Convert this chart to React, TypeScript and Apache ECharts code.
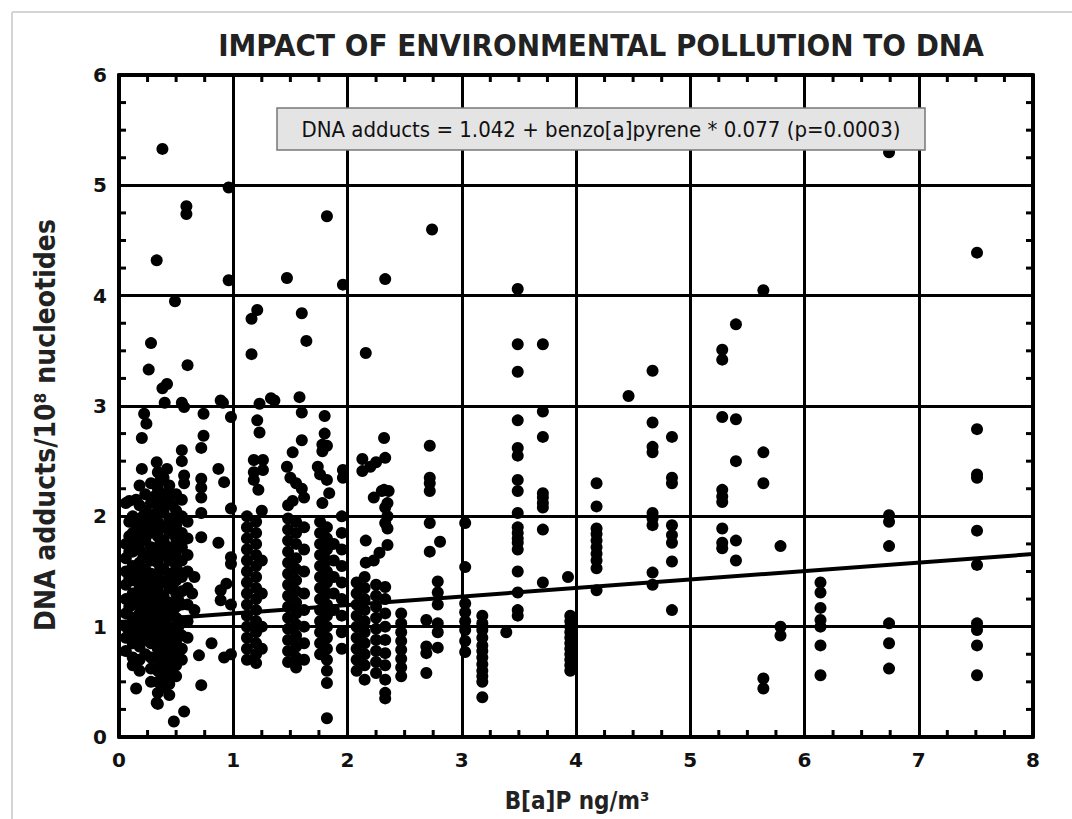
import React, { useEffect, useRef } from "react";
import * as echarts from "echarts";

const TITLE = "IMPACT OF ENVIRONMENTAL POLLUTION TO DNA";
const X_NAME = "B[a]P ng/m³";
const Y_NAME = "DNA adducts/10⁸ nucleotides";
const EQUATION = "DNA adducts = 1.042 + benzo[a]pyrene * 0.077 (p=0.0003)";
const INTERCEPT = 1.042;
const SLOPE = 0.077;
const X_TICKS = [0, 1, 2, 3, 4, 5, 6, 7, 8];
const Y_TICKS = [0, 1, 2, 3, 4, 5, 6];
const MINOR_FRACTIONS = [0.25, 0.5, 0.75];

type P = [number, number];

const pointsHigh: P[] = [
  [0.38, 5.33], [0.96, 4.98], [0.59, 4.81], [0.59, 4.74], [0.33, 4.32], [0.96, 4.14],
  [0.49, 3.95], [0.28, 3.57], [0.26, 3.33], [0.6, 3.37], [0.38, 3.16], [0.42, 3.2],
  [1.82, 4.72], [1.47, 4.16], [1.96, 4.1], [1.21, 3.87], [1.16, 3.79], [1.6, 3.84],
  [1.16, 3.47], [1.64, 3.59], [2.33, 4.15], [2.74, 4.6], [2.16, 3.48], [3.49, 4.06],
  [3.49, 3.56], [3.71, 3.56], [3.49, 3.31], [4.46, 3.09], [4.67, 3.32], [5.28, 3.51],
  [5.28, 3.42], [5.4, 3.74], [5.64, 4.05], [6.74, 5.3], [7.51, 4.39],
];

const band0Sparse: P[] = [
  [0.4, 3.03], [0.55, 3.03], [0.91, 3.03], [0.57, 2.99], [0.89, 3.05], [0.98, 2.9],
  [0.74, 2.93], [0.22, 2.93], [0.24, 2.84], [0.2, 2.71], [0.74, 2.73], [0.72, 2.62],
  [0.55, 2.6], [0.55, 2.5], [0.33, 2.49], [0.42, 2.43], [0.2, 2.43], [0.87, 2.43],
  [0.92, 2.31], [0.72, 2.34], [0.72, 2.26], [0.72, 2.17], [0.09, 2.14], [0.57, 2.37],
  [0.57, 2.3], [0.98, 2.07], [0.72, 2.03], [0.72, 1.81], [0.87, 1.76], [0.98, 1.63],
  [0.98, 1.57], [0.89, 1.33], [0.94, 1.39], [0.89, 1.24], [0.81, 0.85], [0.7, 0.74],
  [0.92, 0.72], [0.15, 0.44], [0.72, 0.47], [0.57, 0.23], [0.48, 0.14], [0.33, 0.31],
  [0.98, 1.2], [0.98, 0.75], [0.66, 1.45], [0.64, 1.3], [0.66, 1.15],
];

const band0Dense: P[] = [
  [0.06, 2.12], [0.06, 1.75], [0.06, 1.62], [0.06, 1.5], [0.06, 1.38], [0.06, 1.25], [0.06, 1.12], [0.06, 1.0], [0.06, 0.9], [0.06, 0.78],
  [0.12, 2.0], [0.12, 1.85], [0.12, 1.68], [0.12, 1.55], [0.12, 1.42], [0.12, 1.3], [0.12, 1.2], [0.12, 1.08], [0.12, 0.95], [0.12, 0.85], [0.12, 0.72], [0.12, 0.65],
  [0.18, 2.28], [0.18, 2.1], [0.18, 1.95], [0.18, 1.8], [0.18, 1.7], [0.18, 1.58], [0.18, 1.45], [0.18, 1.35], [0.18, 1.22], [0.18, 1.12], [0.18, 1.02], [0.18, 0.92], [0.18, 0.82], [0.18, 0.7], [0.18, 0.6],
  [0.23, 2.2], [0.23, 2.05], [0.23, 1.9], [0.23, 1.78], [0.23, 1.65], [0.23, 1.52], [0.23, 1.4], [0.23, 1.3], [0.23, 1.18], [0.23, 1.05], [0.23, 0.98], [0.23, 0.88], [0.23, 0.75],
  [0.28, 2.3], [0.28, 2.12], [0.28, 1.98], [0.28, 1.85], [0.28, 1.72], [0.28, 1.6], [0.28, 1.48], [0.28, 1.35], [0.28, 1.25], [0.28, 1.15], [0.28, 1.05], [0.28, 0.95], [0.28, 0.85], [0.28, 0.72], [0.28, 0.62], [0.28, 0.5],
  [0.34, 2.4], [0.34, 2.25], [0.34, 2.1], [0.34, 1.95], [0.34, 1.82], [0.34, 1.7], [0.34, 1.58], [0.34, 1.45], [0.34, 1.32], [0.34, 1.2], [0.34, 1.1], [0.34, 1.0], [0.34, 0.9], [0.34, 0.8], [0.34, 0.7], [0.34, 0.6], [0.34, 0.5], [0.34, 0.4], [0.34, 0.3],
  [0.39, 2.35], [0.39, 2.2], [0.39, 2.05], [0.39, 1.9], [0.39, 1.78], [0.39, 1.65], [0.39, 1.52], [0.39, 1.4], [0.39, 1.28], [0.39, 1.15], [0.39, 1.05], [0.39, 0.95], [0.39, 0.85], [0.39, 0.75], [0.39, 0.65], [0.39, 0.55], [0.39, 0.45],
  [0.44, 2.28], [0.44, 2.12], [0.44, 1.98], [0.44, 1.85], [0.44, 1.72], [0.44, 1.6], [0.44, 1.48], [0.44, 1.35], [0.44, 1.22], [0.44, 1.1], [0.44, 1.0], [0.44, 0.9], [0.44, 0.8], [0.44, 0.68], [0.44, 0.58], [0.44, 0.48], [0.44, 0.38],
  [0.5, 2.2], [0.5, 2.05], [0.5, 1.92], [0.5, 1.8], [0.5, 1.68], [0.5, 1.55], [0.5, 1.42], [0.5, 1.3], [0.5, 1.18], [0.5, 1.08], [0.5, 0.95], [0.5, 0.85], [0.5, 0.75], [0.5, 0.65], [0.5, 0.55],
  [0.55, 2.15], [0.55, 2.0], [0.55, 1.85], [0.55, 1.72], [0.55, 1.6], [0.55, 1.45], [0.55, 1.32], [0.55, 1.2], [0.55, 1.05], [0.55, 0.92], [0.55, 0.8], [0.55, 0.7],
  [0.6, 1.95], [0.6, 1.8], [0.6, 1.65], [0.6, 1.5], [0.6, 1.35], [0.6, 1.2], [0.6, 1.05], [0.6, 0.9],
];

const band0Overlap: P[] = [
  [0.09, 1.95], [0.09, 1.82], [0.09, 1.68], [0.09, 1.44], [0.09, 1.18], [0.09, 0.95],
  [0.15, 2.15], [0.15, 1.92], [0.15, 1.76], [0.15, 1.5], [0.15, 1.26], [0.15, 1.02],
  [0.21, 2.0], [0.21, 1.85], [0.21, 1.62], [0.21, 1.46], [0.21, 1.25], [0.21, 1.1],
  [0.31, 2.18], [0.31, 2.02], [0.31, 1.9], [0.31, 1.66], [0.31, 1.4], [0.31, 1.1], [0.31, 0.9],
  [0.36, 2.32], [0.36, 2.15], [0.36, 1.75], [0.36, 1.52], [0.36, 1.26], [0.36, 1.05], [0.36, 0.82],
  [0.42, 2.2], [0.42, 1.92], [0.42, 1.65], [0.42, 1.42], [0.42, 1.18], [0.42, 0.95], [0.42, 0.72],
  [0.47, 2.1], [0.47, 1.88], [0.47, 1.62], [0.47, 1.38], [0.47, 1.14], [0.47, 0.9],
  [0.52, 1.98], [0.52, 1.74], [0.52, 1.5], [0.52, 1.24], [0.52, 1.0],
];

const band1: P[] = [
  [1.21, 2.87], [1.23, 2.76], [1.18, 2.51], [1.26, 2.51], [1.18, 2.4], [1.26, 2.42], [1.18, 2.33], [1.22, 2.24], [1.23, 3.02], [1.33, 3.07],
  [1.12, 2.0], [1.12, 1.9], [1.12, 1.8], [1.12, 1.7], [1.12, 1.6], [1.12, 1.5], [1.12, 1.4], [1.12, 1.3], [1.12, 1.2], [1.12, 1.1], [1.12, 1.0], [1.12, 0.9], [1.12, 0.8], [1.12, 0.7],
  [1.2, 1.95], [1.2, 1.85], [1.2, 1.75], [1.2, 1.65], [1.2, 1.55], [1.2, 1.45], [1.2, 1.35], [1.2, 1.25], [1.2, 1.15], [1.2, 1.05], [1.2, 0.95], [1.2, 0.85], [1.2, 0.75], [1.2, 0.67],
  [1.25, 2.05], [1.25, 1.6], [1.25, 1.3], [1.25, 1.0], [1.25, 0.8],
  [1.58, 3.08], [1.6, 2.94], [1.6, 2.69], [1.52, 2.58], [1.47, 2.45], [1.5, 2.35], [1.55, 2.3], [1.6, 2.25], [1.62, 2.17], [1.52, 2.14], [1.36, 3.05],
  [1.48, 2.1], [1.48, 1.98], [1.48, 1.88], [1.48, 1.78], [1.48, 1.68], [1.48, 1.58], [1.48, 1.48], [1.48, 1.38], [1.48, 1.28], [1.48, 1.18], [1.48, 1.08], [1.48, 0.98], [1.48, 0.88], [1.48, 0.78], [1.48, 0.68],
  [1.55, 1.95], [1.55, 1.85], [1.55, 1.75], [1.55, 1.62], [1.55, 1.52], [1.55, 1.42], [1.55, 1.32], [1.55, 1.22], [1.55, 1.12], [1.55, 1.02], [1.55, 0.92], [1.55, 0.82], [1.55, 0.72], [1.55, 0.63],
  [1.62, 1.9], [1.62, 1.7], [1.62, 1.5], [1.62, 1.3], [1.62, 1.15], [1.62, 1.0], [1.62, 0.85], [1.62, 0.7],
  [1.8, 2.91], [1.8, 2.75], [1.82, 2.64], [1.74, 2.45], [1.76, 2.38], [1.82, 2.33], [1.84, 2.21], [1.78, 2.12], [1.96, 2.42], [1.96, 2.35], [1.78, 2.65], [1.78, 2.59], [1.82, 0.17],
  [1.76, 1.95], [1.76, 1.85], [1.76, 1.75], [1.76, 1.65], [1.76, 1.55], [1.76, 1.45], [1.76, 1.35], [1.76, 1.25], [1.76, 1.15], [1.76, 1.05], [1.76, 0.95], [1.76, 0.85], [1.76, 0.75],
  [1.82, 1.9], [1.82, 1.8], [1.82, 1.7], [1.82, 1.6], [1.82, 1.5], [1.82, 1.4], [1.82, 1.3], [1.82, 1.2], [1.82, 1.1], [1.82, 1.0], [1.82, 0.9], [1.82, 0.8], [1.82, 0.7], [1.82, 0.6], [1.82, 0.49],
  [1.88, 1.75], [1.88, 1.6], [1.88, 1.45], [1.88, 1.3], [1.88, 1.15],
  [1.95, 2.0], [1.95, 1.85], [1.95, 1.7], [1.95, 1.55], [1.95, 1.4], [1.95, 1.25], [1.95, 1.1], [1.95, 0.95], [1.95, 0.8],
];

const band2: P[] = [
  [2.32, 2.71], [2.33, 2.53], [2.25, 2.49], [2.13, 2.52], [2.13, 2.41], [2.2, 2.45], [2.32, 2.24], [2.23, 2.17], [2.33, 2.08], [2.33, 1.94],
  [2.35, 2.12], [2.35, 2.0], [2.35, 1.89], [2.16, 1.78], [2.16, 1.58], [2.23, 1.6], [2.28, 1.67], [2.35, 1.74], [2.3, 2.23], [2.36, 2.23],
  [2.08, 1.4], [2.08, 1.3], [2.08, 1.2], [2.08, 1.1], [2.08, 1.0], [2.08, 0.9], [2.08, 0.8], [2.08, 0.7], [2.08, 0.6],
  [2.15, 1.45], [2.15, 1.35], [2.15, 1.25], [2.15, 1.15], [2.15, 1.05], [2.15, 0.95], [2.15, 0.85], [2.15, 0.75], [2.15, 0.65], [2.15, 0.52],
  [2.25, 1.38], [2.25, 1.28], [2.25, 1.18], [2.25, 1.08], [2.25, 0.98], [2.25, 0.88], [2.25, 0.78], [2.25, 0.68], [2.25, 0.58],
  [2.33, 1.36], [2.33, 1.25], [2.33, 1.12], [2.33, 1.0], [2.33, 0.88], [2.33, 0.76], [2.33, 0.65], [2.33, 0.52], [2.33, 0.4], [2.33, 0.35],
  [2.47, 1.12], [2.47, 1.03], [2.47, 0.95], [2.47, 0.87], [2.47, 0.79], [2.47, 0.71], [2.47, 0.63], [2.47, 0.55],
  [2.72, 2.64], [2.72, 2.35], [2.72, 2.3], [2.72, 2.23], [2.72, 1.94], [2.81, 1.77], [2.72, 1.68], [2.79, 1.41], [2.79, 1.31],
  [2.79, 1.2], [2.69, 1.06], [2.79, 1.03], [2.79, 0.95], [2.69, 0.82], [2.69, 0.76], [2.79, 0.81], [2.69, 0.58],
];

const band3: P[] = [
  [3.03, 1.94], [3.03, 1.54], [3.03, 1.21], [3.03, 1.13], [3.03, 1.05], [3.03, 0.97], [3.03, 0.87], [3.03, 0.77],
  [3.18, 1.1], [3.18, 1.03], [3.18, 0.97], [3.18, 0.9], [3.18, 0.83], [3.18, 0.78], [3.18, 0.72], [3.18, 0.66], [3.18, 0.6], [3.18, 0.55], [3.18, 0.5], [3.18, 0.36],
  [3.39, 0.95],
  [3.49, 2.87], [3.49, 2.62], [3.49, 2.55], [3.49, 2.33], [3.49, 2.23], [3.49, 2.03], [3.49, 1.9], [3.49, 1.85], [3.49, 1.8], [3.49, 1.76], [3.49, 1.7], [3.49, 1.5], [3.49, 1.31], [3.49, 1.15], [3.49, 1.1],
  [3.71, 2.95], [3.71, 2.72], [3.71, 2.21], [3.71, 2.17], [3.71, 2.12], [3.71, 2.08], [3.71, 1.88], [3.71, 1.4],
  [3.93, 1.45],
  [3.95, 1.1], [3.95, 1.05], [3.95, 1.0], [3.95, 0.95], [3.95, 0.9], [3.95, 0.85], [3.95, 0.8], [3.95, 0.75], [3.95, 0.7], [3.95, 0.65], [3.95, 0.6],
];

const band4to8: P[] = [
  [4.18, 2.3], [4.18, 2.09], [4.18, 1.89], [4.18, 1.84], [4.18, 1.78], [4.18, 1.72], [4.18, 1.66], [4.18, 1.6], [4.18, 1.53], [4.18, 1.33],
  [4.67, 2.85], [4.67, 2.63], [4.67, 2.58], [4.67, 2.03], [4.67, 1.98], [4.67, 1.92], [4.67, 1.49], [4.67, 1.38],
  [4.84, 2.72], [4.84, 2.35], [4.84, 2.3], [4.84, 1.92], [4.84, 1.83], [4.84, 1.76], [4.84, 1.59], [4.84, 1.15],
  [5.28, 2.9], [5.28, 2.24], [5.28, 2.18], [5.28, 2.13], [5.28, 1.89], [5.28, 1.76], [5.28, 1.71],
  [5.4, 2.88], [5.4, 2.5], [5.4, 1.78], [5.4, 1.6],
  [5.64, 2.58], [5.64, 2.3], [5.64, 0.53], [5.64, 0.44],
  [5.79, 1.73], [5.79, 1.0], [5.79, 0.92],
  [6.14, 1.4], [6.14, 1.31], [6.14, 1.17], [6.14, 1.06], [6.14, 1.0], [6.14, 0.83], [6.14, 0.56],
  [6.74, 2.01], [6.74, 1.95], [6.74, 1.73], [6.74, 1.03], [6.74, 0.85], [6.74, 0.62],
  [7.51, 2.79], [7.51, 2.38], [7.51, 2.35], [7.51, 1.87], [7.51, 1.56], [7.51, 1.03], [7.51, 0.97], [7.51, 0.83], [7.51, 0.56],
];

const GRID = { left: 119, top: 75, width: 914, height: 662 };
const LABEL_FONT = "'DejaVu Sans', Verdana, sans-serif";
const NARROW_FONT = "'DejaVu Sans Condensed', 'Open Sans', sans-serif";
const TICK_LEN = 7;

export default function App() {
  const ref = useRef<HTMLDivElement>(null);
  useEffect(() => {
    document.body.style.margin = "0";
    if (!ref.current) return;
    const chart = echarts.init(ref.current, null, { renderer: "svg" });
    const allPoints = [
      ...pointsHigh, ...band0Sparse, ...band0Dense, ...band0Overlap,
      ...band1, ...band2, ...band3, ...band4to8,
    ];
    const xMin = X_TICKS[0];
    const xMax = X_TICKS[X_TICKS.length - 1];
    const yMin = Y_TICKS[0];
    const yMax = Y_TICKS[Y_TICKS.length - 1];
    const fitLine: P[] = [
      [xMin, INTERCEPT + SLOPE * xMin],
      [xMax, INTERCEPT + SLOPE * xMax],
    ];
    const xMinorTicks: P[] = [];
    X_TICKS.slice(0, -1).forEach((t) => MINOR_FRACTIONS.forEach((f) => xMinorTicks.push([t + f, yMin])));
    const yMinorTicks: P[] = [];
    Y_TICKS.slice(0, -1).forEach((t) => MINOR_FRACTIONS.forEach((f) => yMinorTicks.push([xMin, t + f])));

    const tickStyle = { stroke: "#000", lineWidth: 3 };
    const mainAxis = (min: number, max: number, position: string, labels: boolean) => ({
      type: "value",
      min,
      max,
      interval: 1,
      position,
      axisLine: { show: true, onZero: false, lineStyle: { color: "#000", width: 4 } },
      axisTick: { show: false },
      splitLine: { show: labels, lineStyle: { color: "#000", width: 3 } },
      axisLabel: labels
        ? { show: true, color: "#111", fontFamily: LABEL_FONT, fontWeight: "bold", fontSize: 20, margin: position === "bottom" ? 13 : 12 }
        : { show: false },
    });
    chart.setOption({
      animation: false,
      backgroundColor: "#fff",
      grid: { ...GRID, containLabel: false },
      xAxis: [mainAxis(xMin, xMax, "bottom", true), mainAxis(xMin, xMax, "top", false)],
      yAxis: [mainAxis(yMin, yMax, "left", true), mainAxis(yMin, yMax, "right", false)],
      series: [
        {
          type: "custom",
          silent: true,
          clip: false,
          data: xMinorTicks,
          z: 5,
          renderItem: (params: any, api: any) => {
            const bottom = api.coord([api.value(0), yMin]);
            const top = api.coord([api.value(0), yMax]);
            return {
              type: "group",
              children: [
                { type: "line", shape: { x1: bottom[0], y1: bottom[1], x2: bottom[0], y2: bottom[1] - TICK_LEN }, style: tickStyle },
                { type: "line", shape: { x1: top[0], y1: top[1], x2: top[0], y2: top[1] + TICK_LEN }, style: tickStyle },
              ],
            };
          },
        },
        {
          type: "custom",
          silent: true,
          clip: false,
          data: yMinorTicks,
          z: 5,
          renderItem: (params: any, api: any) => {
            const left = api.coord([xMin, api.value(1)]);
            const right = api.coord([xMax, api.value(1)]);
            return {
              type: "group",
              children: [
                { type: "line", shape: { x1: left[0], y1: left[1], x2: left[0] + TICK_LEN, y2: left[1] }, style: tickStyle },
                { type: "line", shape: { x1: right[0], y1: right[1], x2: right[0] - TICK_LEN, y2: right[1] }, style: tickStyle },
              ],
            };
          },
        },
        {
          type: "scatter",
          data: allPoints,
          symbol: "circle",
          symbolSize: 12,
          itemStyle: { color: "#000", opacity: 1 },
          z: 3,
        },
        {
          type: "line",
          data: fitLine,
          symbol: "none",
          lineStyle: { color: "#000", width: 4 },
          z: 4,
        },
      ],
      graphic: [
        { type: "line", shape: { x1: 12, y1: 12, x2: 1072, y2: 12 }, style: { stroke: "#d4d4d4", lineWidth: 2 } },
        { type: "line", shape: { x1: 12, y1: 12, x2: 12, y2: 819 }, style: { stroke: "#d4d4d4", lineWidth: 2 } },
        {
          type: "text",
          x: 601,
          y: 45,
          style: {
            text: TITLE,
            font: `bold 31px ${NARROW_FONT}`,
            fill: "#222",
            textAlign: "center",
            textVerticalAlign: "middle",
          },
        },
        {
          type: "text",
          x: 45,
          y: 425,
          rotation: Math.PI / 2,
          style: {
            text: Y_NAME,
            font: `bold 28px ${NARROW_FONT}`,
            fill: "#222",
            textAlign: "center",
            textVerticalAlign: "middle",
          },
        },
        {
          type: "text",
          x: 577,
          y: 801,
          style: {
            text: X_NAME,
            font: `bold 24px ${NARROW_FONT}`,
            fill: "#222",
            textAlign: "center",
            textVerticalAlign: "middle",
          },
        },
        {
          type: "rect",
          shape: { x: 277, y: 108, width: 648, height: 42 },
          style: { fill: "#e4e4e4", stroke: "#777", lineWidth: 1.5 },
          z: 10,
        },
        {
          type: "text",
          x: 601,
          y: 129,
          z: 11,
          style: {
            text: EQUATION,
            font: `22px ${NARROW_FONT}`,
            fill: "#111",
            textAlign: "center",
            textVerticalAlign: "middle",
          },
        },
      ],
    });
    return () => chart.dispose();
  }, []);
  return <div ref={ref} style={{ width: 1072, height: 819 }} />;
}
